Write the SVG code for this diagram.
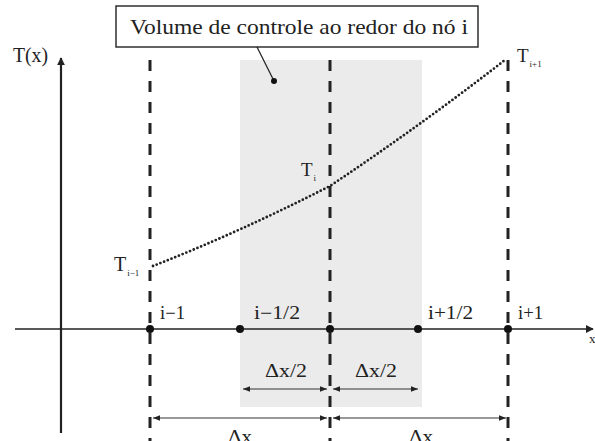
<svg xmlns="http://www.w3.org/2000/svg" width="595" height="441" viewBox="0 0 595 441" font-family="'Liberation Serif', 'Times New Roman', serif">
<defs>
<style>
text{font-family:'Liberation Serif','Times New Roman',serif;fill:#222}
.dash{stroke:#222;stroke-width:3;stroke-dasharray:11 10;fill:none}
.ax{stroke:#222;stroke-width:1.5;fill:none}
.dim{stroke:#333;stroke-width:1.2;fill:none;marker-start:url(#ah);marker-end:url(#ah)}
.dot{fill:#111}
.lbl{font-size:18px}
.sub{font-size:9px}
</style>
<marker id="ah" viewBox="0 0 10 10" refX="10" refY="5" markerWidth="7" markerHeight="7" orient="auto-start-reverse" markerUnits="userSpaceOnUse">
<path d="M0,1 L10,5 L0,9 Z" fill="#222"/>
</marker>
<marker id="ax" viewBox="0 0 10 10" refX="9" refY="5" markerWidth="8" markerHeight="8" orient="auto" markerUnits="userSpaceOnUse">
<path d="M0,0 L10,5 L0,10 Z" fill="#222"/>
</marker>
</defs>
<rect width="595" height="441" fill="#fff"/>
<g id="control-volume">
<rect x="240" y="60" width="182" height="347" fill="#ebebeb"/>
</g>
<g id="axes">
<line class="ax" x1="61" y1="433" x2="61" y2="58" style="stroke-width:2.2" marker-end="url(#ax)"/>
<text x="13" y="62" font-size="20" textLength="35" lengthAdjust="spacingAndGlyphs">T(x)</text>
<line class="ax" x1="15" y1="329" x2="593" y2="329" marker-end="url(#ax)"/>
</g>
<g id="grid-lines">
<line class="dash" x1="150" y1="60" x2="150" y2="441"/>
<line class="dash" x1="330" y1="60" x2="330" y2="441"/>
<line class="dash" x1="508" y1="60" x2="508" y2="441"/>
</g>
<g id="profile">
<path d="M153,266 Q240,232 330,186 Q420,126 505,60" fill="none" stroke="#222" stroke-width="2.8" stroke-dasharray="0 4" stroke-linecap="round"/>
<text x="114" y="271" font-size="20">T<tspan class="sub" dx="1" dy="5">i−1</tspan></text>
<text x="301" y="176" font-size="19">T<tspan class="sub" dx="1" dy="5">i</tspan></text>
<text x="517" y="62" font-size="19">T<tspan class="sub" dx="1" dy="5">i+1</tspan></text>
</g>
<g id="nodes">
<circle class="dot" cx="150" cy="329" r="4"/>
<circle class="dot" cx="240" cy="329" r="4"/>
<circle class="dot" cx="330" cy="329" r="4"/>
<circle class="dot" cx="418" cy="329" r="4"/>
<circle class="dot" cx="508" cy="329" r="4"/>
<text class="lbl" x="160" y="319" textLength="25" lengthAdjust="spacingAndGlyphs">i−1</text>
<text class="lbl" x="254" y="319" textLength="46" lengthAdjust="spacingAndGlyphs">i−1/2</text>
<text class="lbl" x="428" y="319" textLength="45" lengthAdjust="spacingAndGlyphs">i+1/2</text>
<text class="lbl" x="518" y="319" textLength="25" lengthAdjust="spacingAndGlyphs">i+1</text>
</g>
<g id="label">
<rect x="116" y="6" width="362" height="41" fill="#fff" stroke="#222" stroke-width="1.4"/>
<text x="130" y="34" font-size="22" textLength="338" lengthAdjust="spacingAndGlyphs">Volume de controle ao redor do nó i</text>
<line x1="257" y1="47" x2="274" y2="81" stroke="#222" stroke-width="1.2"/>
<circle class="dot" cx="274" cy="81" r="3"/>
</g>
<g id="connectors">
<line class="dim" x1="243" y1="389" x2="327" y2="389"/>
<line class="dim" x1="333" y1="389" x2="418" y2="389"/>
<line class="dim" x1="153" y1="418" x2="327" y2="418"/>
<line class="dim" x1="333" y1="418" x2="506" y2="418"/>
</g>
<g id="dim-labels">
<text class="lbl" x="265" y="377" textLength="42" lengthAdjust="spacingAndGlyphs">Δx/2</text>
<text class="lbl" x="355" y="377" textLength="42" lengthAdjust="spacingAndGlyphs">Δx/2</text>
<text class="lbl" x="228" y="443" textLength="24" lengthAdjust="spacingAndGlyphs">Δx</text>
<text class="lbl" x="409" y="443" textLength="24" lengthAdjust="spacingAndGlyphs">Δx</text>
<text x="589" y="343" font-size="13">x</text>
</g>
</svg>
